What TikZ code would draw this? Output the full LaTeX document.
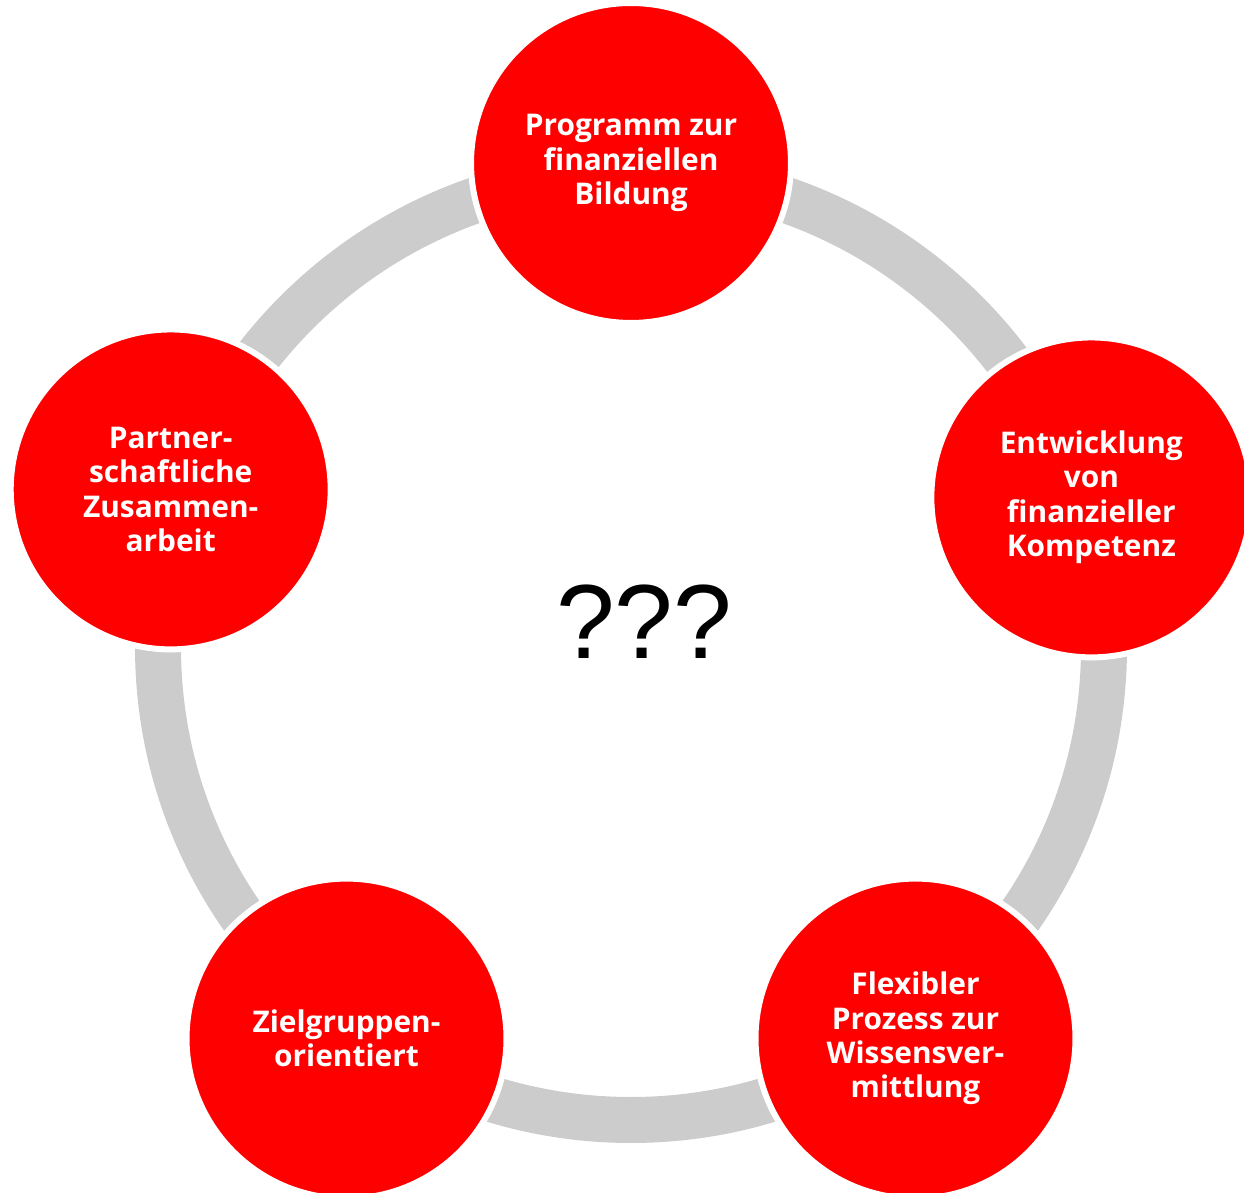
\documentclass[tikz,border=0pt]{standalone}
\usepackage{fontspec}
\setmainfont{Open Sans}
\newfontfamily\askfont{Liberation Sans}
\usetikzlibrary{positioning, calc}

\definecolor{stagered}{HTML}{FF0000}
\definecolor{ringgray}{HTML}{CCCCCC}

\begin{document}
\begin{tikzpicture}[
    x=0.02cm, y=0.02cm,
    stage/.style={circle, fill=stagered, draw=white, line width=0.12cm, minimum size=6.4cm, inner sep=0pt, align=center, text=white, font=\fontsize{17}{19.6}\selectfont\bfseries},
    ring/.style={draw=ringgray, line width=0.92cm},
    ask/.style={font=\fontsize{60}{60}\selectfont\askfont},
]
\useasboundingbox (0,0) rectangle (1244,1193);

\coordinate (centre) at (631,546);

% grey ring behind the stages
\draw[ring] (centre) circle (473);

\node[stage] (s1) at ([shift={(90:484)}]centre) {Programm zur\\finanziellen\\Bildung};
\node[stage] (s2) at ([shift={(18:484)}]centre) {Entwicklung\\von\\finanzieller\\Kompetenz};
\node[stage] (s3) at ([shift={(-54:484)}]centre) {Flexibler\\Prozess zur\\Wissensver-\\mittlung};
\node[stage] (s4) at ([shift={(-126:484)}]centre) {Zielgruppen-\\orientiert};
\node[stage] (s5) at ([shift={(162:484)}, yshift=0.16cm]centre) {Partner-\\schaftliche\\Zusammen-\\arbeit};

\node[ask] (ask) at (644,571) {???};

\end{tikzpicture}
\end{document}
